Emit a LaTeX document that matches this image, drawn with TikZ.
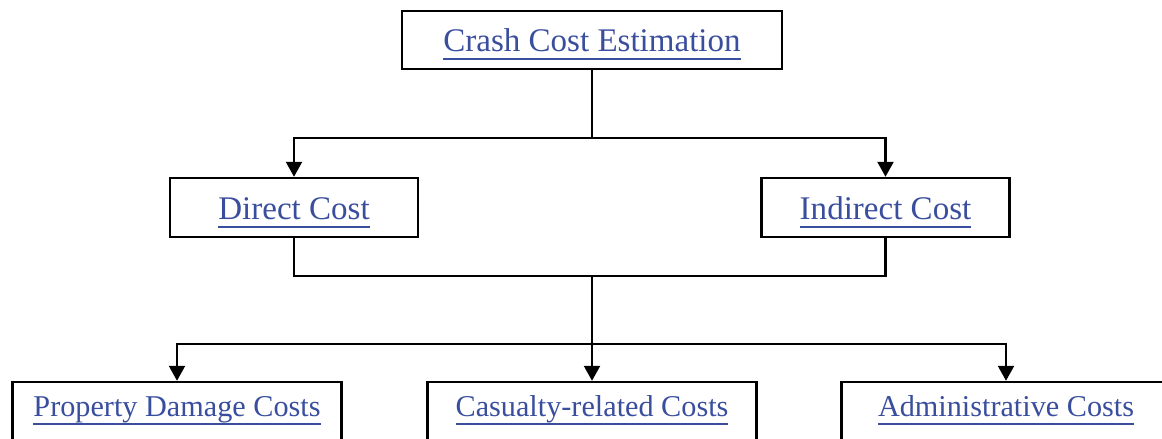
\documentclass[tikz,border=0pt]{standalone}
\usepackage{fontspec}
\setmainfont{Liberation Serif}
\usepackage{xcolor}
\usepackage{tikz}
\usetikzlibrary{arrows.meta,positioning,calc}

\definecolor{linkblue}{RGB}{58,78,158}
\newsavebox{\costtextbox}
\newcommand{\costlabel}[1]{\sbox{\costtextbox}{#1}\rlap{\rule[-4.6pt]{\wd\costtextbox}{1.1pt}}\usebox{\costtextbox}}

\begin{document}
\begin{tikzpicture}[x=0.02cm,y=-0.02cm,
		costbox/.style={draw, line width=1.4pt, fill=white, inner sep=0pt, text=linkblue,
			font=\fontsize{18.8}{22}\selectfont, text height=15.6pt, text depth=2pt},
		lowbox/.style={costbox, font=\fontsize{17.2}{20}\selectfont, text height=13pt, text depth=7.4pt},
		arr/.style={line width=1.3pt, -{Triangle[length=0.3cm,width=0.32cm]}},
		link/.style={line width=1.3pt}]
		\useasboundingbox (0,0) rectangle (1162,439);

		\node[costbox, minimum width=7.6cm, minimum height=1.16cm] (crash) at (592,40) {\costlabel{Crash Cost Estimation}};

		\node[costbox, minimum width=4.96cm, minimum height=1.18cm] (direct) at (294,207.5) {\costlabel{Direct Cost}};
		\node[costbox, minimum width=4.96cm, minimum height=1.18cm] (indirect) at (885.5,207.5) {\costlabel{Indirect Cost}};

		\node[lowbox, minimum width=6.58cm, minimum height=1.2cm] (property) at (177,412) {\costlabel{Property Damage Costs}};
		\node[lowbox, minimum width=6.58cm, minimum height=1.2cm] (casualty) at (592,412) {\costlabel{Casualty-related Costs}};
		\node[lowbox, minimum width=6.58cm, minimum height=1.2cm] (admin) at (1006,412) {\costlabel{Administrative Costs}};

		\coordinate (split) at (592,138);
		\coordinate (merge) at (592,276);
		\coordinate (fan) at (592,344);

		\draw[link] (crash) -- (split);
		\draw[arr] (split) -| (direct);
		\draw[arr] (split) -| (indirect);

		\draw[link] (direct) |- (merge) -| (indirect);
		\draw[arr] (merge) -- (casualty);
		\draw[arr] (fan) -| (property);
		\draw[arr] (fan) -| (admin);
	\end{tikzpicture}
\end{document}
